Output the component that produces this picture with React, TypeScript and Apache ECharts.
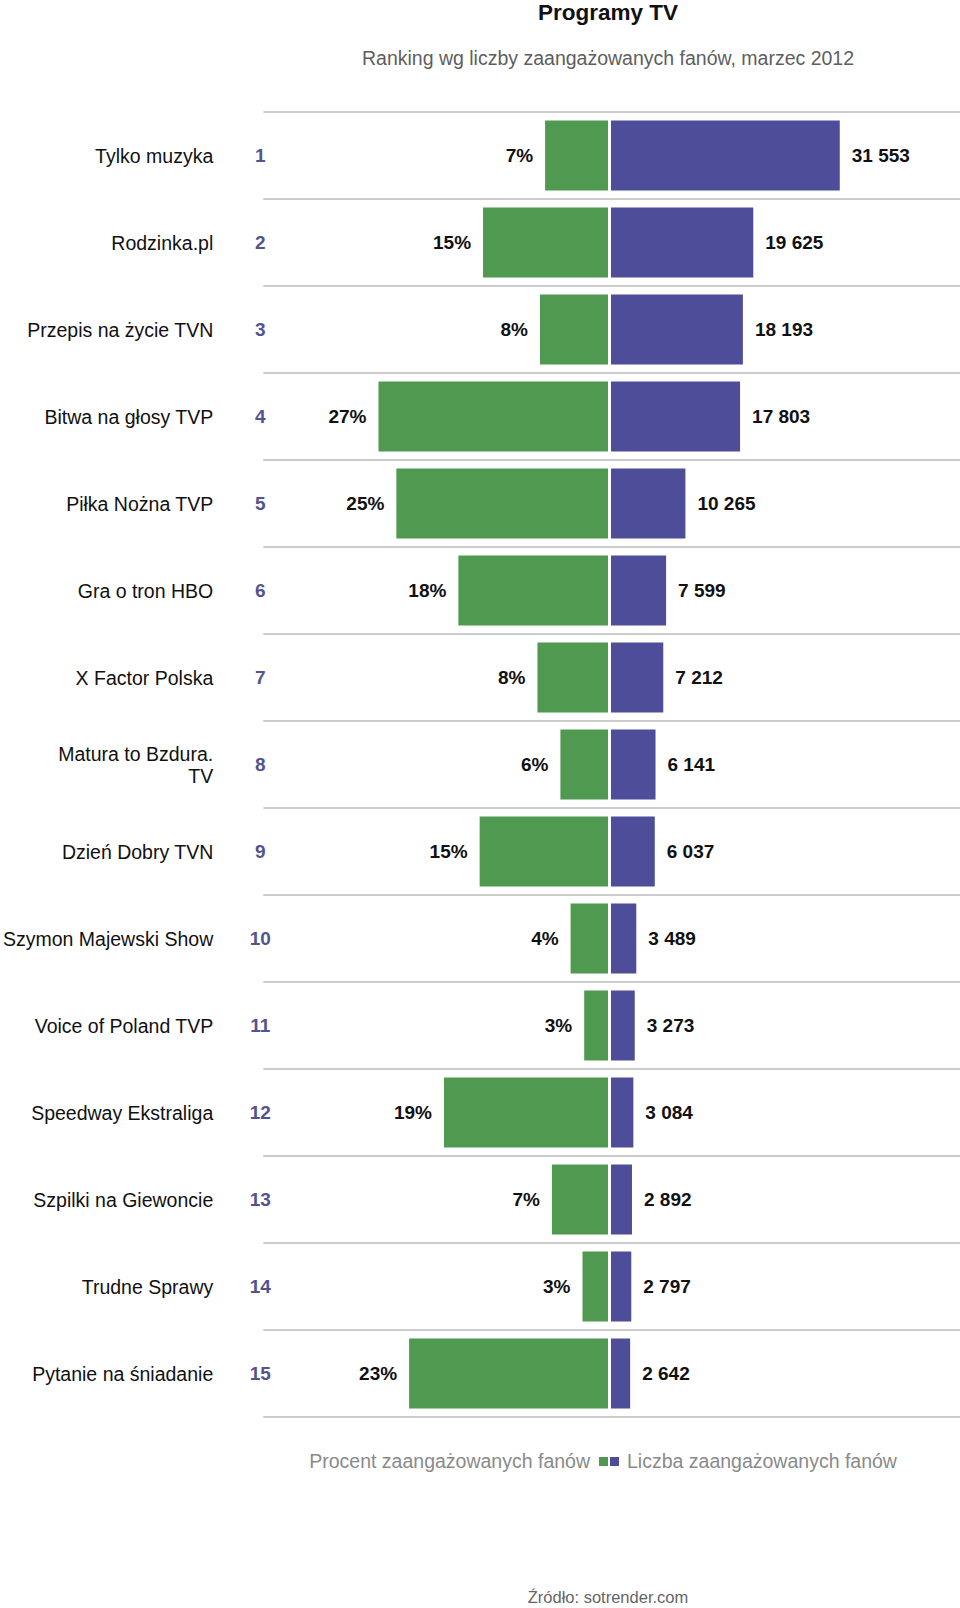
import React, { useEffect, useRef } from "react";
import * as echarts from "echarts";

const programs = [
  "Tylko muzyka",
  "Rodzinka.pl",
  "Przepis na życie TVN",
  "Bitwa na głosy TVP",
  "Piłka Nożna TVP",
  "Gra o tron HBO",
  "X Factor Polska",
  "Matura to Bzdura.\nTV",
  "Dzień Dobry TVN",
  "Szymon Majewski Show",
  "Voice of Poland TVP",
  "Speedway Ekstraliga",
  "Szpilki na Giewoncie",
  "Trudne Sprawy",
  "Pytanie na śniadanie",
];
const ranks = ["1", "2", "3", "4", "5", "6", "7", "8", "9", "10", "11", "12", "13", "14", "15"];
const engagedPercent = [7.4, 14.7, 8.0, 27.0, 24.9, 17.6, 8.3, 5.6, 15.1, 4.4, 2.8, 19.3, 6.6, 3.0, 23.4];
const engagedFans = [31553, 19625, 18193, 17803, 10265, 7599, 7212, 6141, 6037, 3489, 3273, 3084, 2892, 2797, 2642];

const titleText = "Programy TV";
const subtitleText = "Ranking wg liczby zaangażowanych fanów, marzec 2012";
const legendLeft = "Procent zaangażowanych fanów";
const legendRight = "Liczba zaangażowanych fanów";
const sourceText = "Źródło: sotrender.com";

const GREEN = "#4f9a50";
const BLUE = "#4d4d99";
const FONT = "Liberation Sans, Arial, sans-serif";

function formatThousands(v: number): string {
  return String(Math.round(v)).replace(/\B(?=(\d{3})+(?!\d))/g, " ");
}

export default function App() {
  const ref = useRef<HTMLDivElement>(null);
  useEffect(() => {
    if (!ref.current) return;
    const chart = echarts.init(ref.current, undefined, { renderer: "svg" });
    const top = 112;
    const height = 1305;
    chart.setOption({
      animation: false,
      backgroundColor: "#ffffff",
      textStyle: { fontFamily: FONT },
      title: [
        {
          text: titleText,
          left: 608,
          top: 1,
          padding: 0,
          textAlign: "center",
          textStyle: { fontSize: 22.5, fontWeight: "bold", color: "#111", fontFamily: FONT },
        },
        {
          text: subtitleText,
          left: 608,
          top: 48,
          padding: 0,
          textAlign: "center",
          textStyle: { fontSize: 19.5, fontWeight: "normal", color: "#5e5e5e", fontFamily: FONT },
        },
        {
          text: sourceText,
          left: 608,
          top: 1588,
          padding: 0,
          textAlign: "center",
          textStyle: { fontSize: 16.5, fontWeight: "normal", color: "#666", fontFamily: FONT },
        },
      ],
      grid: [
        { left: 260, right: 0, top, height },
        { left: 268, width: 340, top, height },
        { left: 611, width: 348, top, height },
      ],
      xAxis: [
        { gridIndex: 0, type: "value", show: false, min: 0, max: 1 },
        { gridIndex: 1, type: "value", show: false, min: 0, max: 40, inverse: true },
        { gridIndex: 2, type: "value", show: false, min: 0, max: 48000 },
      ],
      yAxis: [
        {
          gridIndex: 0,
          type: "category",
          data: programs,
          inverse: true,
          axisLine: { show: false },
          axisTick: { show: false },
          splitLine: { show: true, lineStyle: { color: "#cccccc", width: 2 } },
          axisLabel: {
            margin: 50,
            align: "right",
            fontSize: 19.5,
            color: "#111",
            lineHeight: 22,
            fontFamily: FONT,
          },
        },
        {
          gridIndex: 0,
          type: "category",
          data: ranks,
          inverse: true,
          position: "left",
          axisLine: { show: false },
          axisTick: { show: false },
          splitLine: { show: false },
          axisLabel: {
            margin: 3,
            align: "center",
            fontSize: 19,
            fontWeight: "bold",
            color: "#53538f",
            fontFamily: FONT,
          },
        },
        {
          gridIndex: 1,
          type: "category",
          data: programs,
          inverse: true,
          show: false,
        },
        {
          gridIndex: 2,
          type: "category",
          data: programs,
          inverse: true,
          show: false,
        },
      ],
      graphic: [
        {
          type: "text",
          x: 590,
          y: 1460.5,
          style: {
            text: legendLeft,
            align: "right",
            verticalAlign: "middle",
            fontSize: 19.5,
            fill: "#8a8a8a",
            fontFamily: FONT,
          },
        },
        {
          type: "rect",
          shape: { x: 599, y: 1457, width: 9, height: 9 },
          style: { fill: GREEN },
        },
        {
          type: "rect",
          shape: { x: 610, y: 1457, width: 9, height: 9 },
          style: { fill: BLUE },
        },
        {
          type: "text",
          x: 627,
          y: 1460.5,
          style: {
            text: legendRight,
            align: "left",
            verticalAlign: "middle",
            fontSize: 19.5,
            fill: "#8a8a8a",
            fontFamily: FONT,
          },
        },
      ],
      series: [
        {
          name: legendLeft,
          type: "bar",
          xAxisIndex: 1,
          yAxisIndex: 2,
          data: engagedPercent,
          barWidth: 70,
          itemStyle: { color: GREEN },
          label: {
            show: true,
            position: "left",
            distance: 12,
            formatter: (p: any) => Math.round(p.value) + "%",
            fontSize: 19,
            fontWeight: "bold",
            color: "#111",
            fontFamily: FONT,
          },
        },
        {
          name: legendRight,
          type: "bar",
          xAxisIndex: 2,
          yAxisIndex: 3,
          data: engagedFans,
          barWidth: 70,
          itemStyle: { color: BLUE },
          label: {
            show: true,
            position: "right",
            distance: 12,
            formatter: (p: any) => formatThousands(p.value),
            fontSize: 19,
            fontWeight: "bold",
            color: "#111",
            fontFamily: FONT,
          },
        },
      ],
    });
    return () => chart.dispose();
  }, []);
  return (
    <div
      ref={ref}
      style={{ position: "absolute", left: 0, top: 0, width: 960, height: 1608 }}
    />
  );
}
